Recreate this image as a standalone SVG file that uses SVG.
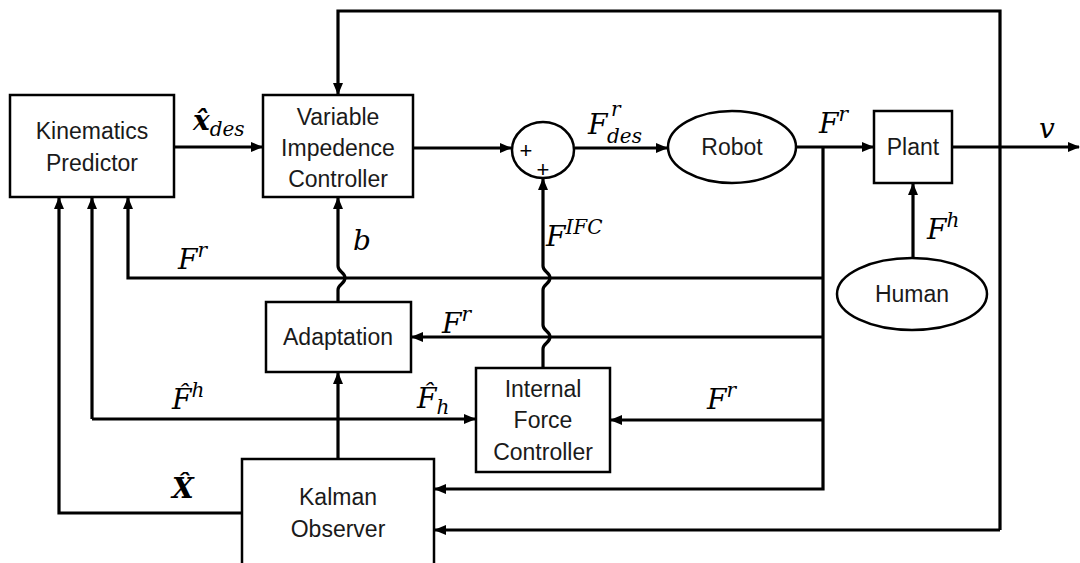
<svg xmlns="http://www.w3.org/2000/svg" width="1080" height="563" viewBox="0 0 1080 563">
<defs>
<style>
.box{fill:#fff;stroke:#000;stroke-width:2.5}
.t{font-family:"Liberation Sans",Arial,sans-serif;font-size:23px;fill:#1a1a1a;text-anchor:middle}
.c{fill:none;stroke:#000;stroke-width:3.2;stroke-linejoin:miter}
.m{font-family:"DejaVu Serif","Liberation Serif",serif;font-style:italic;font-size:28px;fill:#000}
.s{font-size:20px}
.b{font-weight:bold}
.pl{font-family:"Liberation Sans",Arial,sans-serif;font-size:22px;fill:#000;text-anchor:middle}
</style>
<marker id="ah" viewBox="0 0 12 10" markerUnits="userSpaceOnUse" markerWidth="12" markerHeight="10" refX="11" refY="5" orient="auto">
<path d="M0,0 L12,5 L0,10 z" fill="#000"/>
</marker>
</defs>
<rect width="1080" height="563" fill="#fff"/>

<g id="connectors">
<path class="c" d="M174,147 L262,147" marker-end="url(#ah)"/>
<path class="c" d="M413,148 L511,148" marker-end="url(#ah)"/>
<path class="c" d="M575,148 L667,148" marker-end="url(#ah)"/>
<path class="c" d="M797,147 L873,147" marker-end="url(#ah)"/>
<path class="c" d="M952,147 L1079,147" marker-end="url(#ah)"/>
<path class="c" d="M1000,530 L1000,11 L338,11 L338,94" marker-end="url(#ah)"/>
<path class="c" d="M1000,530 L435,530" marker-end="url(#ah)"/>
<path class="c" d="M823,147 L823,489 L435,489" marker-end="url(#ah)"/>
<path class="c" d="M823,278 L128,278 L128,198" marker-end="url(#ah)"/>
<path class="c" d="M823,337 L412,337" marker-end="url(#ah)"/>
<path class="c" d="M823,420 L611,420" marker-end="url(#ah)"/>
<path class="c" d="M913,258 L913,184" marker-end="url(#ah)"/>
<path class="c" d="M338,302 L338,290 C338,284 345,284 345,278 C345,272 338,272 338,266 L338,198" marker-end="url(#ah)"/>
<path class="c" d="M543,368 L543,349 C543,343 550,343 550,337 C550,331 543,331 543,325 L543,290 C543,284 550,284 550,278 C550,272 543,272 543,266 L543,179" marker-end="url(#ah)"/>
<path class="c" d="M338,459 L338,373" marker-end="url(#ah)"/>
<path class="c" d="M92,419 L475,419" marker-end="url(#ah)"/>
<path class="c" d="M92,419 L92,198" marker-end="url(#ah)"/>
<path class="c" d="M242,513 L59,513 L59,198" marker-end="url(#ah)"/>
</g>

<g id="kinematics-predictor">
<rect class="box" x="10" y="95" width="164" height="102"/>
<text class="t" x="92" y="139">Kinematics</text>
<text class="t" x="92" y="171">Predictor</text>
</g>

<g id="variable-impedence-controller">
<rect class="box" x="263" y="95" width="150" height="102"/>
<text class="t" x="338" y="125">Variable</text>
<text class="t" x="338" y="156">Impedence</text>
<text class="t" x="338" y="187">Controller</text>
</g>

<g id="sum">
<ellipse class="box" cx="543" cy="150" rx="31" ry="28"/>
<text class="pl" x="526" y="158">+</text>
<text class="pl" x="543" y="177">+</text>
</g>

<g id="robot">
<ellipse class="box" cx="732" cy="147" rx="64" ry="36"/>
<text class="t" x="732" y="155">Robot</text>
</g>

<g id="plant">
<rect class="box" x="874" y="111" width="78" height="72"/>
<text class="t" x="913" y="155">Plant</text>
</g>

<g id="human">
<ellipse class="box" cx="912" cy="294" rx="75" ry="36"/>
<text class="t" x="912" y="302">Human</text>
</g>

<g id="adaptation">
<rect class="box" x="266" y="302" width="145" height="70"/>
<text class="t" x="338" y="345">Adaptation</text>
</g>

<g id="internal-force-controller">
<rect class="box" x="476" y="368" width="134" height="104"/>
<text class="t" x="543" y="397">Internal</text>
<text class="t" x="543" y="428">Force</text>
<text class="t" x="543" y="460">Controller</text>
</g>

<g id="kalman-observer">
<rect class="box" x="242" y="459" width="192" height="130"/>
<text class="t" x="338" y="505">Kalman</text>
<text class="t" x="338" y="537">Observer</text>
</g>

<g id="labels">
<text class="m b" x="193" y="130">x&#770;<tspan class="s" font-weight="normal" dy="6">des</tspan></text>
<text class="m" x="588" y="134">F</text>
<text class="m s" x="611" y="116">r</text>
<text class="m s" x="607" y="143">des</text>
<text class="m" x="819" y="133">F<tspan class="s" dy="-12">r</tspan></text>
<text class="m" x="1039" y="138">v</text>
<text class="m" x="927" y="239">F<tspan class="s" dy="-12">h</tspan></text>
<text class="m" x="178" y="269">F<tspan class="s" dy="-12">r</tspan></text>
<text class="m" x="353" y="250">b</text>
<text class="m" x="546" y="246">F<tspan class="s" dy="-12">IFC</tspan></text>
<text class="m" x="442" y="333">F<tspan class="s" dy="-12">r</tspan></text>
<text class="m" x="172" y="409">F&#770;<tspan class="s" dy="-12">h</tspan></text>
<text class="m" x="417" y="408">F&#770;<tspan class="s" dy="6">h</tspan></text>
<text class="m" x="707" y="409">F<tspan class="s" dy="-12">r</tspan></text>
<text class="m b" x="172" y="498">X&#770;</text>
</g>
</svg>
